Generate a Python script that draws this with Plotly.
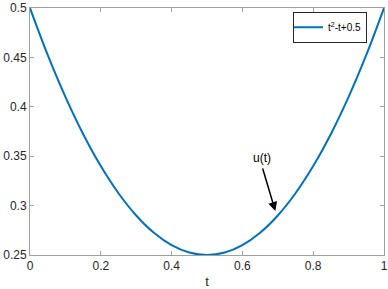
import plotly.graph_objects as go

t_vals = [0.0, 0.05, 0.1, 0.15, 0.2, 0.25, 0.3, 0.35, 0.4, 0.45, 0.5,
          0.55, 0.6, 0.65, 0.7, 0.75, 0.8, 0.85, 0.9, 0.95, 1.0]
u_vals = [0.5, 0.4525, 0.41, 0.3725, 0.34, 0.3125, 0.29, 0.2725, 0.26, 0.2525, 0.25,
          0.2525, 0.26, 0.2725, 0.29, 0.3125, 0.34, 0.3725, 0.41, 0.4525, 0.5]
x_ticks = [0, 0.2, 0.4, 0.6, 0.8, 1]
x_labels = ["0", "0.2", "0.4", "0.6", "0.8", "1"]
y_ticks = [0.25, 0.3, 0.35, 0.4, 0.45, 0.5]
y_labels = ["0.25", "0.3", "0.35", "0.4", "0.45", "0.5"]
series_name = "t<sup>2</sup>-t+0.5"
annot_text = "u(t)"
annot_tail = (0.656, 0.339)
annot_head = (0.693, 0.2945)

FONT = "Liberation Sans, Arial, sans-serif"
AXC = "#a0a0a0"
TXC = "#262626"

fig = go.Figure()
fig.add_trace(go.Scatter(x=t_vals, y=u_vals, mode="lines", name=series_name,
                         line=dict(color="#0072BD", width=2, shape="spline")))

fig.add_annotation(x=annot_head[0], y=annot_head[1], ax=annot_tail[0], ay=annot_tail[1],
                   xref="x", yref="y", axref="x", ayref="y", text="",
                   showarrow=True, arrowhead=2, arrowsize=1.2, arrowwidth=1.5,
                   arrowcolor="black")
fig.add_annotation(x=annot_tail[0], y=annot_tail[1], xref="x", yref="y",
                   text=annot_text, showarrow=False, yanchor="bottom", xanchor="center",
                   yshift=0, font=dict(family=FONT, size=12, color="black"))

axis_common = dict(showgrid=False, zeroline=False, showline=True, linecolor=AXC,
                   linewidth=1, mirror="ticks", ticks="inside", ticklen=4,
                   tickcolor=AXC, tickwidth=1, automargin=False,
                   tickfont=dict(family=FONT, size=12, color=TXC))

fig.update_xaxes(range=[0, 1], tickvals=x_ticks, ticktext=x_labels,
                 title=dict(text="t", font=dict(family=FONT, size=13, color=TXC), standoff=5),
                 **axis_common)
fig.update_yaxes(range=[0.25, 0.5], tickvals=y_ticks, ticktext=y_labels, **axis_common)

fig.update_layout(
    width=388, height=289,
    margin=dict(l=30, r=4, t=8, b=34, autoexpand=False),
    plot_bgcolor="white", paper_bgcolor="white",
    showlegend=True,
    legend=dict(x=0.952, y=0.985, xanchor="right", yanchor="top",
                bgcolor="white", bordercolor=TXC, borderwidth=1,
                font=dict(family=FONT, size=10, color="black"),
                itemwidth=30, tracegroupgap=0, indentation=-6),
)

fig.write_html("out.html", config={"displayModeBar": False},
               post_script="document.body.style.margin='0';document.body.style.overflow='hidden';")
